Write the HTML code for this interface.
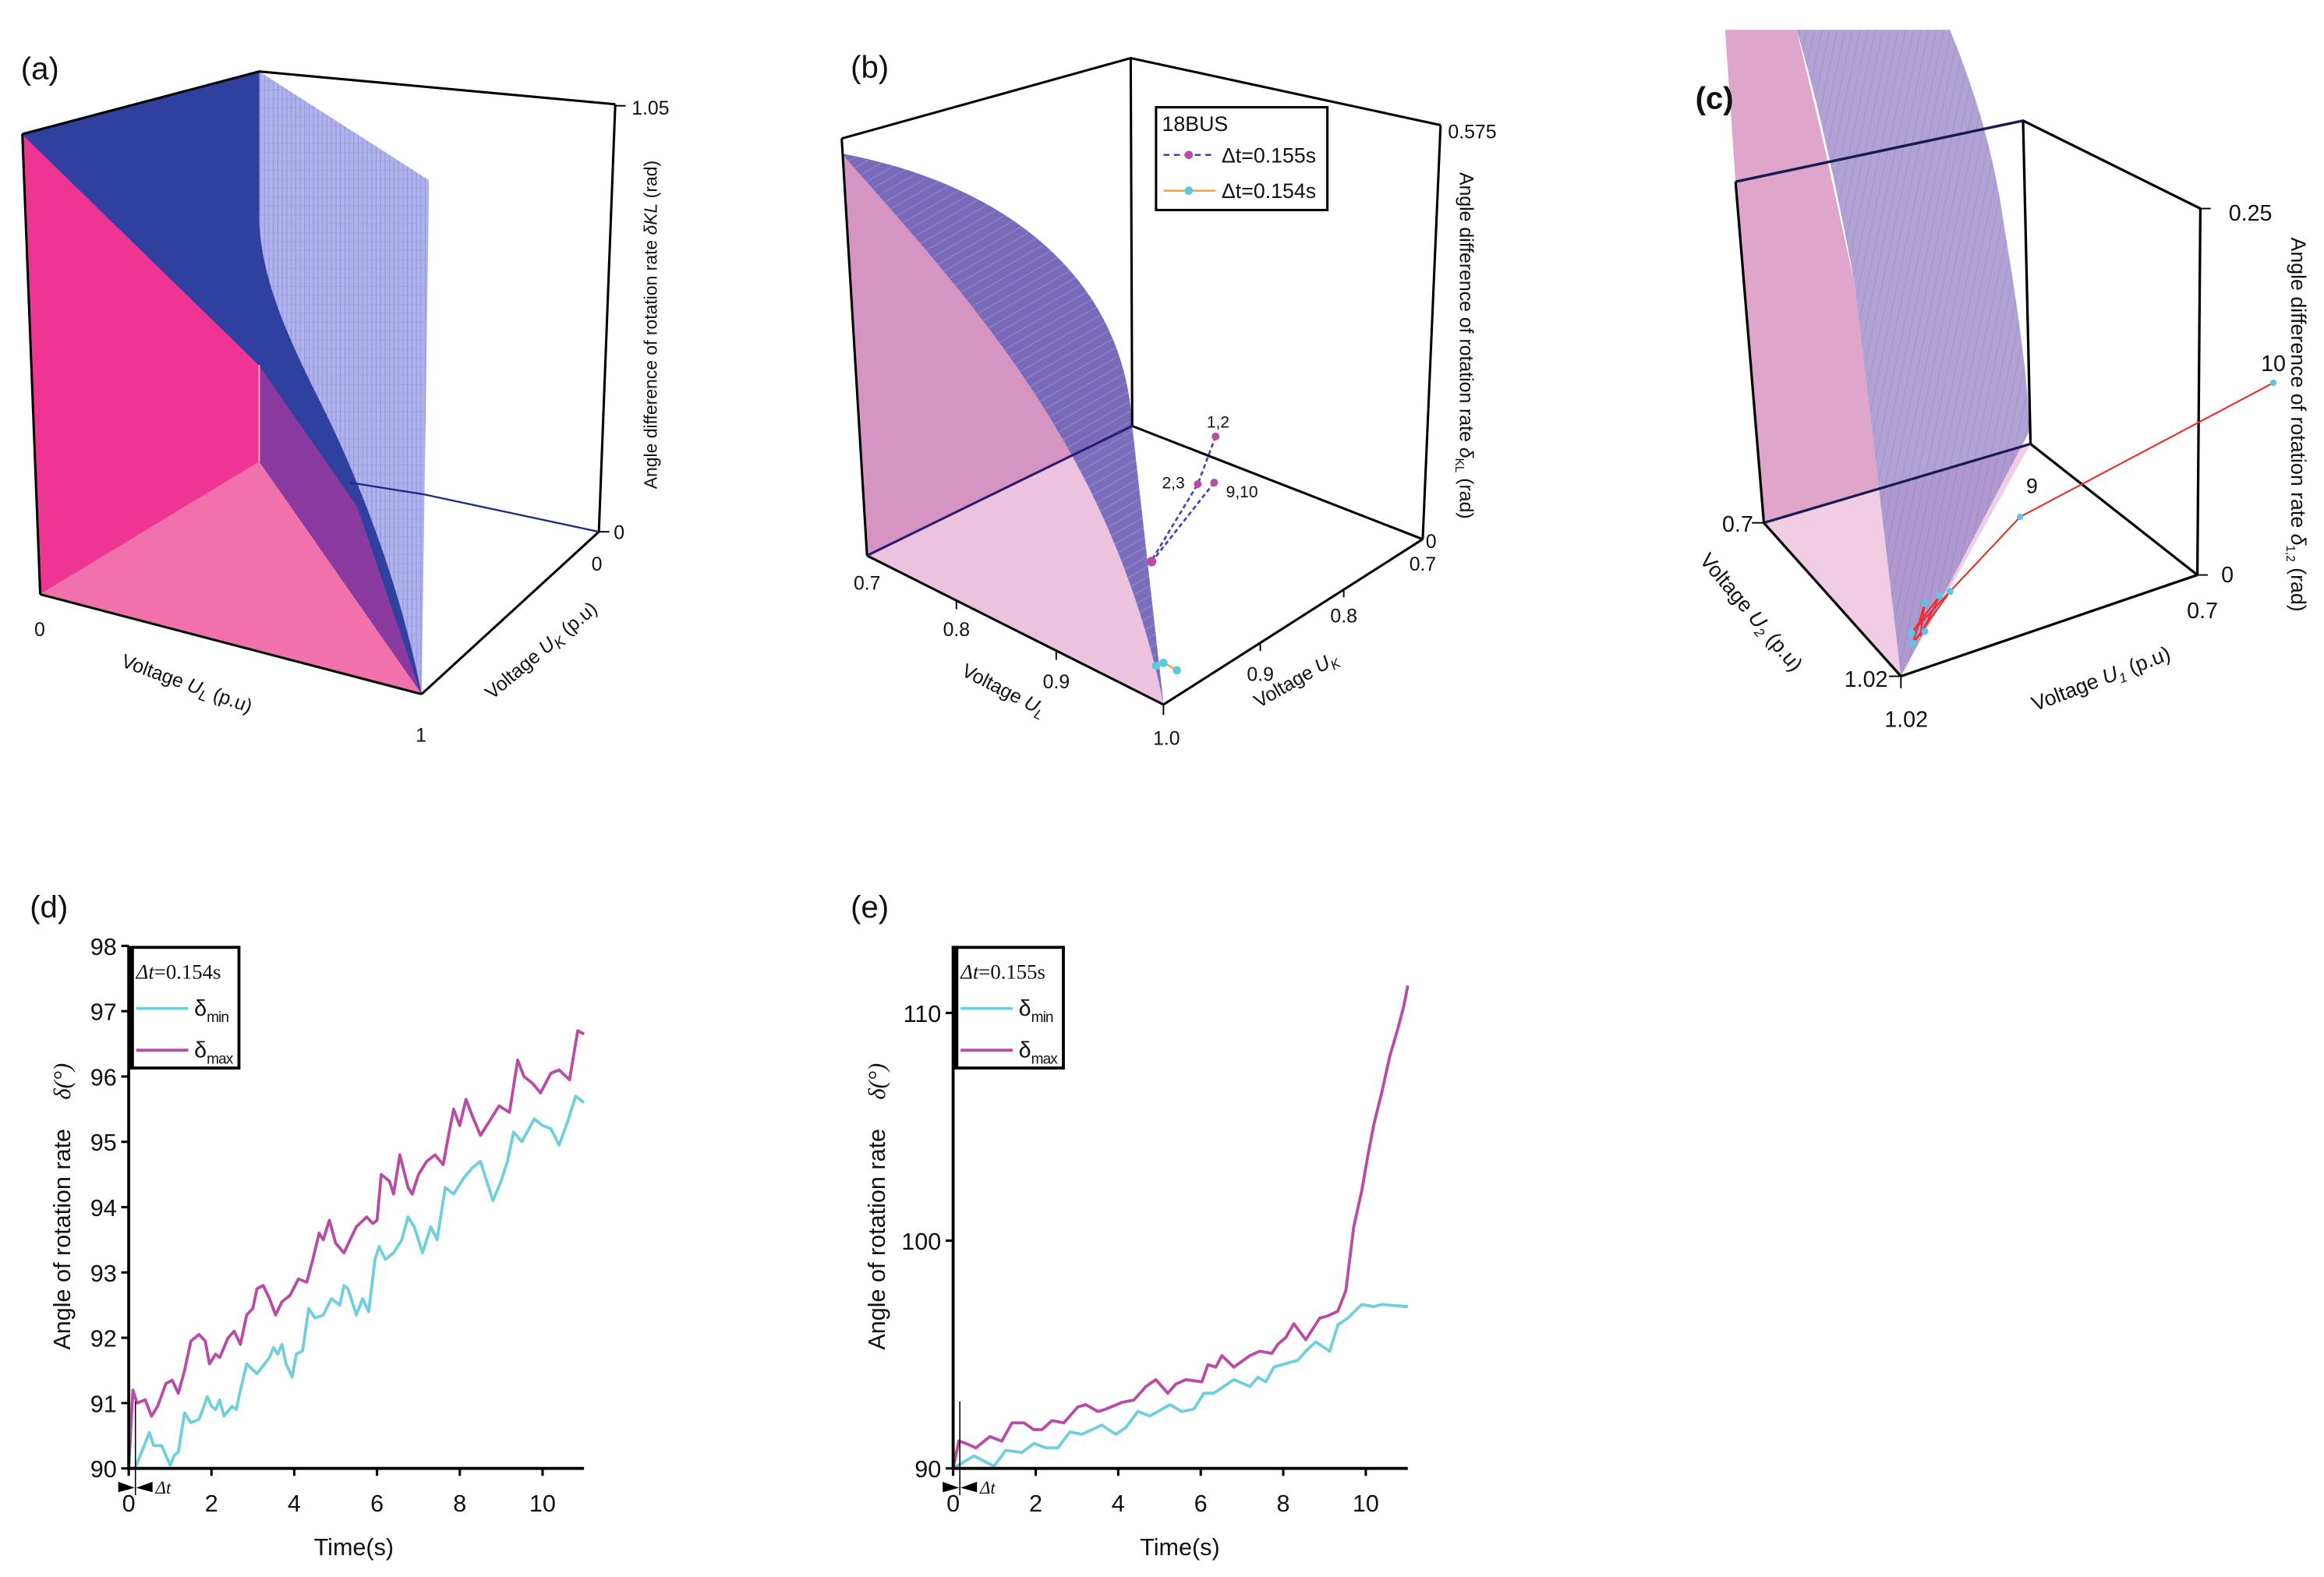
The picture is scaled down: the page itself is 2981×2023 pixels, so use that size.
<!DOCTYPE html>
<html><head><meta charset="utf-8"><style>
html,body{margin:0;padding:0;background:#fff}
svg{display:block}
text{font-family:"Liberation Sans",sans-serif;fill:#111}
.ser{font-family:"Liberation Serif",serif}
</style></head><body>
<svg id="fig" width="2981" height="2023" viewBox="0 0 1560 1058.7" preserveAspectRatio="none" xmlns="http://www.w3.org/2000/svg">
<defs>
<pattern id="vmesh" width="3" height="6" patternUnits="userSpaceOnUse"><rect width="3" height="6" fill="#a9abea"/><line x1="0.5" y1="0" x2="0.5" y2="6" stroke="#8487d8" stroke-width="0.5"/><line x1="0" y1="0.3" x2="3" y2="0.3" stroke="#9597de" stroke-width="0.4"/></pattern>
<pattern id="bmesh" width="6" height="6" patternUnits="userSpaceOnUse" patternTransform="rotate(-30)"><rect width="6" height="6" fill="#6c63b8"/><line x1="0" y1="0.5" x2="6" y2="0.5" stroke="#8a80c8" stroke-width="0.6"/></pattern>
<pattern id="cmesh" width="5" height="8" patternUnits="userSpaceOnUse" patternTransform="rotate(12)"><rect width="5" height="8" fill="#a391cc"/><line x1="0.5" y1="0" x2="0.5" y2="8" stroke="#8f7ec2" stroke-width="0.5"/></pattern>
</defs>

<!-- ============ Panel (a) ============ -->
<g>
<text x="14" y="53" font-size="21">(a)</text>
<polygon points="15,90 27,399 174,310 174,245" fill="#ee3594"/>
<polygon points="27,399 174,310 283,466" fill="#f071ab"/>
<polygon points="174,245 240,340 283,466 174,310" fill="#8a3a9f"/>
<path d="M15,90 L174,48 L174,150 C176,190 195,230 215,270 C245,330 270,400 283,466 L240,340 L174,245 Z" fill="#2f409f" stroke="#2f409f" stroke-width="0.6"/>
<path d="M174,48 L288,121 L283,466 C270,400 245,330 215,270 C195,230 176,190 174,150 Z" fill="url(#vmesh)" opacity="0.92"/>
<g stroke="#000" stroke-width="1.6" fill="none">
<polyline points="15,90 174,48 413,70"/>
<line x1="15" y1="90" x2="27" y2="399"/>
<line x1="27" y1="399" x2="283" y2="466"/>
<line x1="283" y1="466" x2="402" y2="357"/>
<line x1="413" y1="70" x2="402" y2="357"/>
<line x1="174" y1="245" x2="174" y2="310" stroke="#e8a0c8" stroke-width="1"/>
<polyline points="235,324 285,332 402,357" stroke="#1d2a80" stroke-width="1.2"/>
<line x1="413" y1="71" x2="420" y2="71" stroke-width="1"/>
<line x1="402" y1="357" x2="409" y2="357" stroke-width="1"/>
</g>
<text x="424" y="77" font-size="13">1.05</text>
<text x="412" y="362" font-size="13">0</text>
<text x="397" y="383" font-size="13">0</text>
<text x="23" y="427" font-size="13">0</text>
<text x="279" y="498" font-size="13">1</text>
<text transform="translate(124,463) rotate(20)" text-anchor="middle" font-size="13">Voltage <tspan font-style="italic">U</tspan><tspan font-size="10" dy="3" font-style="italic">L</tspan><tspan dy="-3"> (p.u)</tspan></text>
<text transform="translate(366,440) rotate(-40)" text-anchor="middle" font-size="13">Voltage <tspan font-style="italic">U</tspan><tspan font-size="10" dy="3" font-style="italic">K</tspan><tspan dy="-3"> (p.u)</tspan></text>
<text transform="translate(441,218) rotate(-90)" text-anchor="middle" font-size="12">Angle difference of rotation rate <tspan font-style="italic">δKL</tspan> (rad)</text>
</g>

<!-- ============ Panel (b) ============ -->
<g>
<text x="571" y="52" font-size="21">(b)</text>
<path d="M565,93 L565,103 C680,125 755,190 760,286 L582,373 Z" fill="#d694c3"/>
<path d="M565,103 C650,200 745,300 781,470 L582,373 Z" fill="#d694c3"/>
<polygon points="582,373 760,286 781,473" fill="#ecc2de"/>
<path d="M565,103 C680,125 755,190 760,286 L781,472 C745,300 650,200 565,103 Z" fill="url(#bmesh)" opacity="0.88"/>
<g stroke="#000" stroke-width="1.6" fill="none">
<polyline points="565,93 759,39 967,84"/>
<line x1="565" y1="93" x2="582" y2="373"/>
<line x1="759" y1="39" x2="760" y2="286"/>
<line x1="967" y1="84" x2="955" y2="362"/>
<line x1="582" y1="373" x2="781" y2="473"/>
<line x1="781" y1="473" x2="955" y2="362"/>
<line x1="760" y1="286" x2="955" y2="362"/>
<line x1="582" y1="373" x2="760" y2="286" stroke="#2a1a70"/>
<g stroke-width="1"><line x1="642" y1="403" x2="642" y2="409"/><line x1="709" y1="437" x2="709" y2="443"/><line x1="781" y1="473" x2="781" y2="480"/><line x1="902" y1="395" x2="902" y2="401"/><line x1="846" y1="431" x2="846" y2="437"/></g>
</g>
<g>
<polyline points="816,293 804,325 772,378" fill="none" stroke="#4a3fb5" stroke-width="1.4" stroke-dasharray="3,2"/>
<polyline points="815,324 774,376" fill="none" stroke="#4a3fb5" stroke-width="1.4" stroke-dasharray="3,2"/>
<circle cx="816" cy="293" r="2.6" fill="#b94aa5"/><circle cx="804" cy="325" r="2.6" fill="#b94aa5"/><circle cx="815" cy="324" r="2.6" fill="#b94aa5"/><circle cx="773" cy="377" r="3.2" fill="#b94aa5"/>
</g>
<g>
<polyline points="776,447 783,446 790,450" fill="none" stroke="#f5a030" stroke-width="1.2"/>
<circle cx="776" cy="447" r="2.8" fill="#5cc8e0"/><circle cx="781" cy="445" r="2.8" fill="#5cc8e0"/><circle cx="790" cy="450" r="2.8" fill="#5cc8e0"/>
</g>
<text x="810" y="287" font-size="11">1,2</text>
<text x="780" y="328" font-size="11">2,3</text>
<text x="823" y="334" font-size="11">9,10</text>
<g>
<rect x="776" y="72" width="115" height="69" fill="#fff" stroke="#000" stroke-width="1.6"/>
<text x="780" y="88" font-size="14">18BUS</text>
<line x1="781" y1="104" x2="816" y2="104" stroke="#4a3fb5" stroke-width="1.3" stroke-dasharray="4,3"/><circle cx="798" cy="104" r="2.8" fill="#b94aa5"/>
<text x="820" y="109" font-size="14">Δt=0.155s</text>
<line x1="781" y1="128" x2="816" y2="128" stroke="#f5a030" stroke-width="1.3"/><circle cx="798" cy="128" r="2.8" fill="#5cc8e0"/>
<text x="820" y="133" font-size="14">Δt=0.154s</text>
</g>
<text x="972" y="93" font-size="13">0.575</text>
<text x="957" y="368" font-size="13">0</text>
<text x="946" y="383" font-size="13">0.7</text>
<text x="893" y="418" font-size="13">0.8</text>
<text x="837" y="457" font-size="13">0.9</text>
<text x="573" y="396" font-size="13">0.7</text>
<text x="633" y="427" font-size="13">0.8</text>
<text x="700" y="462" font-size="13">0.9</text>
<text x="774" y="500" font-size="13">1.0</text>
<text transform="translate(672,467) rotate(27)" text-anchor="middle" font-size="13">Voltage <tspan font-style="italic">U</tspan><tspan font-size="9" dy="3" font-style="italic">L</tspan></text>
<text transform="translate(872,460) rotate(-30)" text-anchor="middle" font-size="13">Voltage <tspan font-style="italic">U</tspan><tspan font-size="9" dy="3" font-style="italic">K</tspan></text>
<text transform="translate(980,232) rotate(90)" text-anchor="middle" font-size="13">Angle difference of rotation rate <tspan font-style="italic">δ</tspan><tspan font-size="8" dy="3">KL</tspan><tspan dy="-3"> (rad)</tspan></text>
</g>

<!-- ============ Panel (c) ============ -->
<g>
<polygon points="1158,20 1206,20 1225,100 1245,191 1264,351 1276,454 1184,351 1165,122" fill="#dfa5cb"/>
<polygon points="1184,351 1276,454 1363,298" fill="#f0cde2"/>
<path d="M1206,20 L1309,20 C1325,60 1338,100 1345,150 C1355,210 1362,260 1362,290 L1276,454 L1264,351 L1245,191 C1232,120 1218,60 1206,20 Z" fill="url(#cmesh)" opacity="0.85"/>
<text x="1138" y="73" font-size="21" font-weight="bold">(c)</text>
<g stroke="#000" stroke-width="1.7" fill="none">
<polyline points="1165,122 1358,81 1477,140"/>
<line x1="1165" y1="122" x2="1184" y2="351"/>
<line x1="1358" y1="81" x2="1363" y2="298"/>
<line x1="1477" y1="140" x2="1475" y2="386"/>
<line x1="1184" y1="351" x2="1276" y2="454"/>
<line x1="1276" y1="454" x2="1475" y2="386"/>
<line x1="1363" y1="298" x2="1475" y2="386"/>
<line x1="1184" y1="351" x2="1363" y2="298" stroke="#1a1a55"/>
<line x1="1165" y1="122" x2="1358" y2="81" stroke="#1a1a55"/>
<g stroke-width="1"><line x1="1477" y1="140" x2="1484" y2="140"/><line x1="1475" y1="386" x2="1482" y2="386"/><line x1="1176" y1="351" x2="1184" y2="351"/><line x1="1268" y1="454" x2="1276" y2="454"/><line x1="1276" y1="454" x2="1276" y2="462"/></g>
</g>
<g>
<polyline points="1526,257 1356,347 1309,397 1283,425 1302,400 1289,427 1292,405 1284,432 1309,397" fill="none" stroke="#ee2a2a" stroke-width="1.1"/>
<g fill="#5cc8e0"><circle cx="1526" cy="257" r="2.2"/><circle cx="1356" cy="347" r="2.2"/><circle cx="1309" cy="397" r="2.4"/><circle cx="1302" cy="400" r="2.4"/><circle cx="1292" cy="405" r="2.4"/><circle cx="1292" cy="424" r="2.4"/><circle cx="1283" cy="425" r="2.6"/><circle cx="1284" cy="432" r="2.6"/></g>
</g>
<text x="1364" y="331" font-size="14" text-anchor="middle">9</text>
<text x="1526" y="249" font-size="15" text-anchor="middle">10</text>
<text x="1496" y="148" font-size="15">0.25</text>
<text x="1491" y="391" font-size="15">0</text>
<text x="1468" y="415" font-size="15">0.7</text>
<text x="1156" y="357" font-size="15">0.7</text>
<text x="1238" y="461" font-size="15">1.02</text>
<text x="1265" y="488" font-size="15">1.02</text>
<text transform="translate(1172,414) rotate(50)" text-anchor="middle" font-size="14">Voltage <tspan font-style="italic">U</tspan><tspan font-size="9" dy="3" font-style="italic">2</tspan><tspan dy="-3"> (p.u)</tspan></text>
<text transform="translate(1412,460) rotate(-21)" text-anchor="middle" font-size="14">Voltage <tspan font-style="italic">U</tspan><tspan font-size="9" dy="3" font-style="italic">1</tspan><tspan dy="-3"> (p.u)</tspan></text>
<text transform="translate(1538,285) rotate(90)" text-anchor="middle" font-size="14">Angle difference of rotation rate <tspan font-style="italic">δ</tspan><tspan font-size="8" dy="3">1,2</tspan><tspan dy="-3"> (rad)</tspan></text>
</g>

<g id="panelD"></g>
<g id="panelE"></g>
</svg>
<script>
// ---- Panel (d) data ----
const dMinT = [0,0.15,0.5,0.6,0.8,1.0,1.1,1.2,1.35,1.5,1.7,1.9,2.0,2.1,2.2,2.3,2.5,2.6,2.7,2.85,3.1,3.4,3.5,3.6,3.7,3.8,3.95,4.05,4.2,4.35,4.5,4.7,4.9,5.1,5.2,5.3,5.5,5.65,5.8,5.95,6.05,6.2,6.4,6.6,6.75,6.9,7.1,7.3,7.45,7.65,7.85,8.1,8.3,8.5,8.65,8.8,9.0,9.15,9.3,9.5,9.8,10.0,10.2,10.4,10.6,10.8,11.0];
const dMinV = [90,90.0,90.55,90.35,90.35,90.05,90.2,90.25,90.85,90.7,90.75,91.1,90.95,90.9,91.05,90.8,90.95,90.9,91.2,91.6,91.45,91.7,91.85,91.75,91.9,91.6,91.4,91.75,91.8,92.45,92.3,92.35,92.6,92.5,92.8,92.75,92.35,92.6,92.4,93.2,93.4,93.2,93.3,93.5,93.85,93.7,93.3,93.7,93.5,94.3,94.2,94.45,94.6,94.7,94.4,94.1,94.4,94.7,95.15,95.0,95.35,95.25,95.2,94.95,95.3,95.7,95.6];
const dMaxT = [0,0.1,0.2,0.4,0.55,0.7,0.9,1.05,1.2,1.35,1.5,1.7,1.85,1.95,2.1,2.2,2.4,2.55,2.7,2.85,3.0,3.1,3.25,3.4,3.55,3.7,3.9,4.1,4.3,4.45,4.6,4.7,4.85,5.0,5.2,5.35,5.5,5.75,5.9,6.0,6.1,6.3,6.4,6.55,6.75,6.85,7.0,7.2,7.4,7.6,7.7,7.85,8.0,8.15,8.3,8.5,8.7,8.95,9.2,9.4,9.55,9.75,9.95,10.2,10.4,10.65,10.85,11.0];
const dMaxV = [90,91.2,91.0,91.05,90.8,90.95,91.3,91.35,91.15,91.5,91.95,92.05,91.95,91.6,91.75,91.7,92.0,92.1,91.9,92.35,92.45,92.75,92.8,92.6,92.35,92.55,92.65,92.9,92.85,93.2,93.6,93.5,93.8,93.45,93.3,93.5,93.7,93.85,93.75,93.8,94.5,94.4,94.2,94.8,94.3,94.2,94.5,94.7,94.8,94.65,95.0,95.5,95.25,95.65,95.4,95.1,95.3,95.55,95.45,96.25,96.0,95.9,95.75,96.05,96.1,95.95,96.7,96.65];
const dYTicks = [90,91,92,93,94,95,96,97,98];
const dXTicks = [0,2,4,6,8,10];
// ---- Panel (e) data ----
const eMinZX = [278,330,380,410,450,480,510,540,570,600,650,685,710,740,770,820,850,880,905,930,980,1020,1040,1060,1080,1100,1140,1160,1185,1220,1240,1265,1300,1330,1350,1415];
const eMinV = [90,90.55,90.1,90.8,90.7,91.1,90.9,90.9,91.6,91.5,91.9,91.5,91.8,92.5,92.3,92.8,92.5,92.6,93.3,93.3,93.9,93.6,94.0,93.8,94.45,94.55,94.75,95.15,95.55,95.15,96.3,96.6,97.2,97.1,97.2,97.1];
const eMaxZX = [278,292,310,335,370,400,425,455,480,500,525,555,590,610,640,660,700,730,760,785,815,835,860,900,915,935,950,980,1020,1045,1075,1090,1110,1130,1160,1195,1215,1240,1260,1280,1300,1315,1330,1350,1370,1390,1405,1415];
const eMaxV = [90,91.2,91.1,90.9,91.4,91.2,92.0,92.0,91.7,91.7,92.1,92.0,92.7,92.8,92.5,92.6,92.9,93.0,93.6,93.9,93.3,93.7,93.9,93.8,94.55,94.45,94.95,94.45,94.95,95.15,95.05,95.45,95.75,96.35,95.65,96.6,96.7,96.9,97.8,100.6,102.2,103.7,105.1,106.5,108.1,109.3,110.3,111.2];
const eYTicks = [90,100,110];
const eXTicks = [0,2,4,6,8,10];

const NS = "http://www.w3.org/2000/svg";
function mk(parent, tag, attrs, txt){
  const e = document.createElementNS(NS, tag);
  for (const k in attrs) e.setAttribute(k, attrs[k]);
  if (txt !== undefined) e.textContent = txt;
  parent.appendChild(e);
  return e;
}
function drawPanel(g, cfg){
  const sx = t => cfg.x0 + t * (cfg.x10 - cfg.x0) / 10;
  const sy = v => cfg.yb - (v - cfg.vmin) * cfg.ppu;
  const lab = mk(g,'text',{x:cfg.lx,y:cfg.ly,'font-size':21},cfg.label);
  
  
  const series = [[cfg.minT,cfg.minV,'#6fcfdc','delta-min-line'],[cfg.maxT,cfg.maxV,'#b94aa5','delta-max-line']];
  series.forEach(s=>{
    let d='';
    s[0].forEach((t,i)=>{ d += (i?'L':'M') + sx(t).toFixed(1) + ',' + sy(s[1][i]).toFixed(1); });
    const p = mk(g,'path',{d:d,fill:'none',stroke:s[2],'stroke-width':2,'stroke-linejoin':'round'});
    
    
  });
  const ya = mk(g,'line',{x1:cfg.x0,y1:cfg.ytop,x2:cfg.x0,y2:cfg.yb,stroke:'#000','stroke-width':2});
  
  
  const xa = mk(g,'line',{x1:cfg.x0-1,y1:cfg.yb,x2:cfg.xend,y2:cfg.yb,stroke:'#000','stroke-width':2});
  
  
  cfg.yTicks.forEach(v=>{
    mk(g,'line',{x1:cfg.x0-5,y1:sy(v),x2:cfg.x0,y2:sy(v),stroke:'#000','stroke-width':1.6});
    const t = mk(g,'text',{x:cfg.x0-8,y:sy(v)+6,'font-size':16,'text-anchor':'end'},String(v));
    
    
  });
  cfg.xTicks.forEach(v=>{
    mk(g,'line',{x1:sx(v),y1:cfg.yb,x2:sx(v),y2:cfg.yb+5,stroke:'#000','stroke-width':1.6});
    const t = mk(g,'text',{x:sx(v),y:cfg.yb+29,'font-size':16,'text-anchor':'middle'},String(v));
    
    
  });
  const dm = mk(g,'g',{});
  
  
  mk(dm,'polygon',{points:`${cfg.x0-7},${cfg.yb+9} ${cfg.x0+4},${cfg.yb+13} ${cfg.x0-7},${cfg.yb+16}`,fill:'#000'});
  mk(dm,'polygon',{points:`${cfg.x0+16},${cfg.yb+9} ${cfg.x0+5},${cfg.yb+13} ${cfg.x0+16},${cfg.yb+16}`,fill:'#000'});
  mk(dm,'line',{x1:cfg.x0+4.5,y1:cfg.yb-45,x2:cfg.x0+4.5,y2:cfg.yb+18,stroke:'#000','stroke-width':0.8});
  mk(dm,'text',{x:cfg.x0+18,y:cfg.yb+17,'font-size':12,'font-style':'italic',class:'ser'},'Δt');
  const xt = mk(g,'text',{x:cfg.xtx,y:1044,'font-size':16,'text-anchor':'middle'},'Time(s)');
  
  
  const yt = mk(g,'text',{transform:`translate(${cfg.ytx},832) rotate(-90)`,'font-size':16,'text-anchor':'middle'},'Angle of rotation rate');
  
  
  const yt2 = mk(g,'text',{transform:`translate(${cfg.ytx},726) rotate(-90)`,'font-size':16,'text-anchor':'middle','font-style':'italic',class:'ser'},'δ(°)');
  
  
  const lg = mk(g,'g',{});
  
  
  const bx = cfg.x0+2;
  mk(lg,'rect',{x:bx,y:636,width:72,height:81,fill:'#fff',stroke:'#000','stroke-width':2});
  mk(lg,'line',{x1:bx,y1:636,x2:bx,y2:717,stroke:'#000','stroke-width':3});
  const lt = mk(lg,'text',{x:bx+3,y:657,'font-size':14,class:'ser'},'');
  mk(lt,'tspan',{'font-style':'italic'},'Δt');
  mk(lt,'tspan',{},cfg.legTitle);
  mk(lg,'line',{x1:bx+3,y1:677,x2:bx+38,y2:677,stroke:'#6fcfdc','stroke-width':2});
  const t1 = mk(lg,'text',{x:bx+42,y:682,'font-size':15},'δ');
  mk(t1,'tspan',{'font-size':10,dy:4,'letter-spacing':'-0.5'},'min');
  mk(lg,'line',{x1:bx+3,y1:705,x2:bx+38,y2:705,stroke:'#b94aa5','stroke-width':2});
  const t2 = mk(lg,'text',{x:bx+42,y:710,'font-size':15},'δ');
  mk(t2,'tspan',{'font-size':10,dy:4,'letter-spacing':'-0.5'},'max');
}
drawPanel(document.getElementById('panelD'),{
  id:'d', label:'(d)', lx:20, ly:616, x0:86.4, x10:364.2, xend:392, yb:985.8, ytop:635, vmin:90, ppu:43.85,
  minT:dMinT, minV:dMinV, maxT:dMaxT, maxV:dMaxV, yTicks:dYTicks, xTicks:dXTicks,
  legTitle:'=0.154s', xtx:237.5, ytx:47
});
const eT = zx => (zx-278)/103.2;
drawPanel(document.getElementById('panelE'),{
  id:'e', label:'(e)', lx:571, ly:616, x0:639.8, x10:916.8, xend:945, yb:985.8, ytop:635, vmin:90, ppu:15.29,
  minT:eMinZX.map(eT), minV:eMinV, maxT:eMaxZX.map(eT), maxV:eMaxV, yTicks:eYTicks, xTicks:eXTicks,
  legTitle:'=0.155s', xtx:792, ytx:594
});
</script>
</body></html>
